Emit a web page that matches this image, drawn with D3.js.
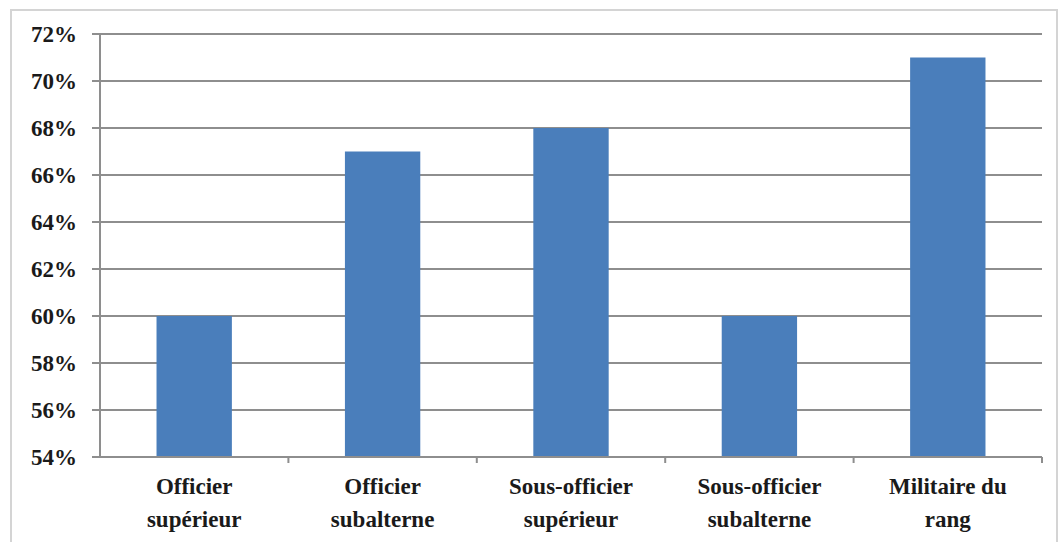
<!DOCTYPE html>
<html>
<head>
<meta charset="utf-8">
<script src="https://cdn.jsdelivr.net/npm/d3@7"></script>
<style>
  body { margin: 0; background: #fff; }
  svg text { font-family: "Liberation Serif", "Times New Roman", serif; font-weight: bold; fill: #1a1a1a; }
</style>
</head>
<body>
<div id="chart"></div>
<script>
var categories = [["Officier", "supérieur"], ["Officier", "subalterne"], ["Sous-officier", "supérieur"], ["Sous-officier", "subalterne"], ["Militaire du", "rang"]];
var values = [60, 67, 68, 60, 71];
var yTicks = [54, 56, 58, 60, 62, 64, 66, 68, 70, 72];

var W = 1059, H = 542;
var margin = {top: 34, right: 17, bottom: 85, left: 100};
var width = W - margin.left - margin.right;
var height = H - margin.top - margin.bottom;

var svg = d3.select("#chart").append("svg")
  .attr("width", W)
  .attr("height", H);

// outer frame
svg.append("rect")
  .attr("x", 11).attr("y", 10)
  .attr("width", 1046).attr("height", 540)
  .attr("fill", "none")
  .attr("stroke", "#d4d4d4")
  .attr("stroke-width", 2);

var g = svg.append("g")
  .attr("transform", "translate(" + margin.left + "," + margin.top + ")");

var x = d3.scaleBand()
  .range([0, width])
  .paddingInner(0.6)
  .paddingOuter(0.3)
  .domain(d3.range(categories.length));
var xb = d3.scaleBand().range([0, width]).domain(d3.range(categories.length));
var y = d3.scaleLinear().range([height, 0]).domain([54, 72]);

// gridlines
g.selectAll(".grid")
  .data(yTicks)
  .enter().append("line")
  .attr("x1", -8).attr("x2", width)
  .attr("y1", function(d) { return y(d); })
  .attr("y2", function(d) { return y(d); })
  .attr("stroke", "#8e8e8e")
  .attr("stroke-width", 2);

// y labels
g.selectAll(".ylab")
  .data(yTicks)
  .enter().append("text")
  .attr("x", -23)
  .attr("y", function(d) { return y(d); })
  .attr("dy", "0.35em")
  .attr("text-anchor", "end")
  .style("font-size", "23px")
  .text(function(d) { return d + "%"; });

// bars
g.selectAll(".bar")
  .data(values)
  .enter().append("rect")
  .attr("x", function(d, i) { return x(i); })
  .attr("y", function(d) { return y(d); })
  .attr("width", x.bandwidth())
  .attr("height", function(d) { return height - y(d); })
  .attr("fill", "#4a7ebb");

// y axis line
g.append("line")
  .attr("x1", 0).attr("x2", 0)
  .attr("y1", 0).attr("y2", height)
  .attr("stroke", "#8e8e8e").attr("stroke-width", 2);

// x axis line + ticks
g.append("line")
  .attr("x1", -8).attr("x2", width)
  .attr("y1", height).attr("y2", height)
  .attr("stroke", "#8e8e8e").attr("stroke-width", 2);
g.selectAll(".xtick")
  .data(d3.range(categories.length))
  .enter().append("line")
  .attr("x1", function(d) { return xb(d) + xb.bandwidth(); })
  .attr("x2", function(d) { return xb(d) + xb.bandwidth(); })
  .attr("y1", height).attr("y2", height + 6)
  .attr("stroke", "#8e8e8e").attr("stroke-width", 2);

// category labels
var lab = g.selectAll(".xlab")
  .data(categories)
  .enter().append("text")
  .attr("text-anchor", "middle")
  .style("font-size", "23px")
  .attr("transform", function(d, i) { return "translate(" + (xb(i) + xb.bandwidth() / 2) + "," + (height + 37) + ")"; });
lab.selectAll("tspan")
  .data(function(d) { return d; })
  .enter().append("tspan")
  .attr("x", 0)
  .attr("y", function(d, i) { return i * 33; })
  .text(function(d) { return d; });
</script>
</body>
</html>
